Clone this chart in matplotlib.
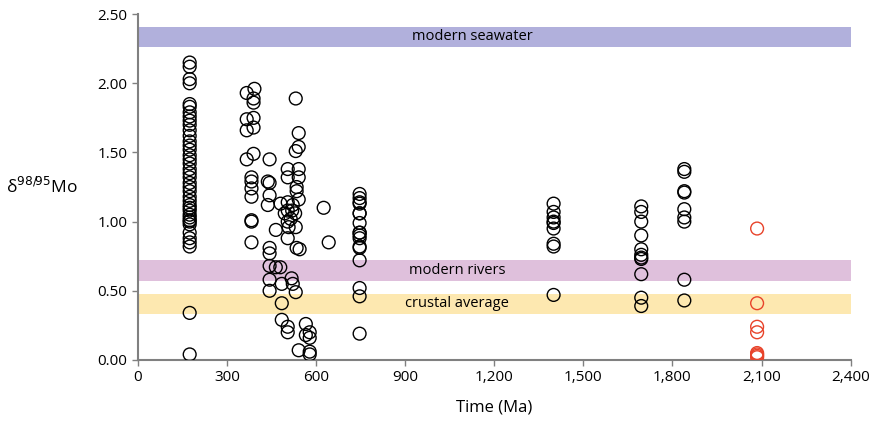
import numpy as np
import matplotlib.pyplot as plt

plt.rcParams['font.family'] = ['Open Sans', 'DejaVu Sans']

# black samples (age in Ma, d98/95Mo)
age_a = [175] * 40
mo_a = [2.15, 2.12, 2.03, 2.00, 1.85, 1.83, 1.79, 1.76, 1.73, 1.70, 1.66, 1.62, 1.58,
        1.55, 1.52, 1.48, 1.45, 1.42, 1.38, 1.35, 1.32, 1.28, 1.25, 1.22, 1.18, 1.15,
        1.12, 1.08, 1.05, 1.03, 1.01, 0.98, 0.92, 0.88, 0.85, 0.82, 1.10, 1.00, 0.34, 0.04]

age_b = [367, 393, 390, 390, 367, 390, 367, 390, 367, 390, 444,
         383, 383, 383, 383, 383, 383, 383,
         438, 444, 444, 438, 465, 444, 444, 444, 465, 480, 444, 444, 485, 518, 522, 532,
         485, 485, 505, 505, 566, 566, 579, 579, 542, 579, 579]
mo_b = [1.93, 1.96, 1.89, 1.86, 1.74, 1.75, 1.66, 1.68, 1.45, 1.49, 1.45,
        1.32, 1.29, 1.24, 1.18, 1.01, 1.00, 0.85,
        1.29, 1.28, 1.19, 1.12, 0.94, 0.81, 0.77, 0.68, 0.67, 0.67, 0.58, 0.50, 0.55,
        0.59, 0.55, 0.49, 0.41, 0.29, 0.24, 0.20, 0.26, 0.18, 0.20, 0.16, 0.07, 0.06, 0.04]

age_c = [532, 542, 542, 532, 505, 542, 505, 542, 535, 535, 542, 505, 481, 522, 505, 520,
         530, 495, 515, 505, 508, 532, 505, 535, 545, 626, 643]
mo_c = [1.89, 1.64, 1.54, 1.51, 1.38, 1.38, 1.32, 1.32, 1.25, 1.22, 1.16, 1.14, 1.13,
        1.12, 1.08, 1.08, 1.06, 1.06, 1.02, 1.00, 0.96, 0.96, 0.88, 0.81, 0.80, 1.10, 0.85]

age_d = [747] * 17
mo_d = [1.20, 1.17, 1.14, 1.13, 1.06, 1.06, 0.99, 0.92, 0.92, 0.90, 0.88, 0.82, 0.81,
        0.72, 0.52, 0.46, 0.19]

age_e = [1400] * 9
mo_e = [1.13, 1.07, 1.03, 1.00, 0.99, 0.95, 0.84, 0.82, 0.47]

age_f = [1695] * 11
mo_f = [1.11, 1.07, 1.00, 0.90, 0.80, 0.76, 0.74, 0.73, 0.62, 0.45, 0.39]

age_g = [1840] * 9
mo_g = [1.38, 1.36, 1.22, 1.21, 1.09, 1.03, 1.00, 0.58, 0.43]

# red samples
age_red = [2085] * 8
mo_red = [0.95, 0.41, 0.24, 0.20, 0.05, 0.04, 0.03, 0.02]

bands = ['modern seawater', 'modern rivers', 'crustal average']
band_lo = [2.26, 0.57, 0.33]
band_hi = [2.41, 0.72, 0.48]
band_col = ['#b1b0dc', '#dfc0dc', '#fde8b0']
band_text_x = [1125, 1075, 1075]

fig = plt.figure(figsize=(8.77, 4.28), dpi=100)
ax = fig.add_axes([0.157, 0.159, 0.813, 0.808])

for name, lo, hi, c, tx in zip(bands, band_lo, band_hi, band_col, band_text_x):
    ax.axhspan(lo, hi, color=c, lw=0, zorder=0)
    ax.text(tx, (lo + hi) / 2, name, ha='center', va='center', fontsize=10.5, zorder=1)

black_age = age_a + age_b + age_c + age_d + age_e + age_f + age_g
black_mo = mo_a + mo_b + mo_c + mo_d + mo_e + mo_f + mo_g
ax.scatter(black_age, black_mo, s=85, facecolors='none', edgecolors='black', linewidths=1.0, zorder=3)
ax.scatter(age_red, mo_red, s=85, facecolors='none', edgecolors='#e8432a', linewidths=1.0, zorder=3)

ax.set_xlim(0, 2400)
ax.set_ylim(0, 2.5)
ax.set_xticks(np.arange(0, 2401, 300))
ax.set_xticklabels([f'{v:,}' for v in range(0, 2401, 300)])
ax.set_yticks(np.arange(0, 2.51, 0.5))
ax.set_yticklabels([f'{v:.2f}' for v in np.arange(0, 2.51, 0.5)])
ax.tick_params(labelsize=11, color='#808080', length=4, width=1)
for s in ['top', 'right']:
    ax.spines[s].set_visible(False)
for s in ['left', 'bottom']:
    ax.spines[s].set_color('#808080')
    ax.spines[s].set_linewidth(1.5)

ax.set_xlabel('Time (Ma)', fontsize=12, labelpad=10)
ax.set_ylabel('δ$^{98/95}$Mo', fontsize=12.5, rotation=0, labelpad=40, va='center')

fig.savefig('out.png', dpi=100)
